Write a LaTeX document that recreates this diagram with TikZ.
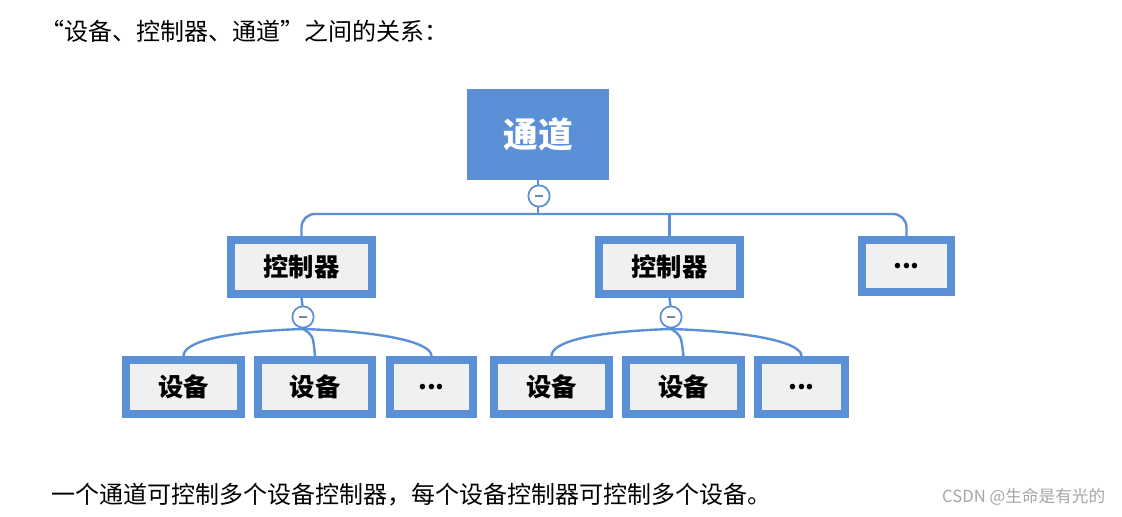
\documentclass[tikz,border=0pt]{standalone}
\usepackage{fontspec}
\usetikzlibrary{calc}
\newfontfamily\cjk{Noto Sans CJK SC}
\definecolor{bl}{HTML}{5B8FD6}
\definecolor{gf}{HTML}{F0F0F0}
\begin{document}
\begin{tikzpicture}[x=0.75pt,y=-0.75pt,
 bx/.style={draw=bl,fill=gf,line width=6pt,inner sep=0,outer sep=3pt,minimum height=54*0.75pt,font=\cjk\bfseries\fontsize{19}{21}\selectfont},
 ln/.style={draw=bl,line width=1.8pt},
 mc/.style={circle,draw=bl,fill=white,line width=1.3pt,minimum size=16pt,inner sep=0}]
\useasboundingbox (0,0) rectangle (1122,517);
\node[anchor=west,font=\cjk\fontsize{18}{20}\selectfont] (t1) at (36,31) {“设备、控制器、通道”之间的关系：};
\node[anchor=west,font=\cjk\fontsize{18}{20}\selectfont] (t2) at (47,495) {一个通道可控制多个设备控制器，每个设备控制器可控制多个设备。};
\node[anchor=east,font=\cjk\fontsize{12.5}{14}\selectfont,text=gray!70] (w) at (1110,497) {CSDN @生命是有光的};
\node[fill=bl,minimum width=142*0.75pt,minimum height=91*0.75pt,inner sep=0,text=white,font=\cjk\bfseries\fontsize{26}{28}\selectfont] (top) at (538,134.5) {通道};
\node[bx,minimum width=141*0.75pt] (c1) at (301.5,267) {控制器};
\node[bx,minimum width=141*0.75pt] (c2) at (669.5,267) {控制器};
\node[bx,minimum width=89*0.75pt,minimum height=52*0.75pt] (c3) at (906.5,266) {...};
\node[bx,minimum width=115*0.75pt] (d1) at (183.5,387) {设备};
\node[bx,minimum width=114*0.75pt] (d2) at (315,387) {设备};
\node[bx,minimum width=83*0.75pt] (d3) at (431.5,387) {...};
\node[bx,minimum width=115*0.75pt] (d4) at (551.5,387) {设备};
\node[bx,minimum width=115*0.75pt] (d5) at (683.5,387) {设备};
\node[bx,minimum width=87*0.75pt] (d6) at (801.5,387) {...};
\draw[ln,rounded corners=10pt] (c1.north) |- (538,214) -| (c3.north);
\draw[ln] (c2.north) -- (669.5,214);
\draw[ln] (top.south) -- (538,214);
\node[mc] (m0) at (539,196) {};
\draw[bl!60!gray,line width=1.5pt] ($(m0)+(-4,0)$) -- ($(m0)+(4,0)$);
\foreach \c/\x/\a/\b/\cc in {c1/303/d1/d2/d3,c2/671/d4/d5/d6}{
 \draw[ln] (\c.south) -- (\x,310);
 \coordinate (j) at (\x,329);
 \draw[ln] (j) .. controls ($(j)+(-90,3)$) and ($(\a.north)+(0,-12)$) .. (\a.north);
 \draw[ln] (j) .. controls ($(j)+(10,6)$) .. (\b.north);
 \draw[ln] (j) .. controls ($(j)+(90,3)$) and ($(\cc.north)+(0,-12)$) .. (\cc.north);
 \node[mc] (m\x) at (\x,317) {};
 \draw[bl!60!gray,line width=1.5pt] ($(m\x)+(-4,0)$) -- ($(m\x)+(4,0)$);
}
\end{tikzpicture}
\end{document}
